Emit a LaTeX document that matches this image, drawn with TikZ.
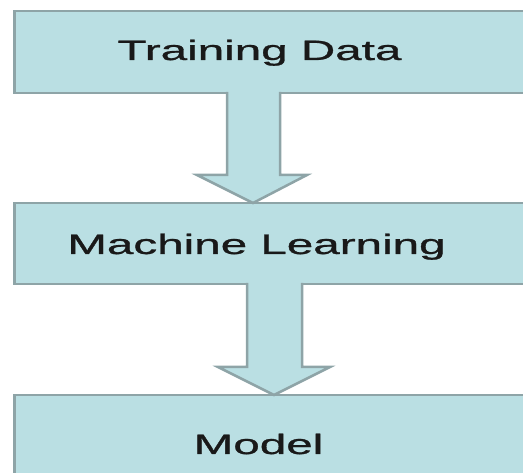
\documentclass[tikz,border=0pt]{standalone}
\usepackage{fontspec}
\setmainfont{Liberation Sans}
\newfontfamily\lblfont[FakeBold=0.8]{Liberation Sans}
\definecolor{boxfill}{HTML}{BADFE3}
\definecolor{boxline}{HTML}{8EA4A7}
\tikzset{
  box/.style={draw=boxline, fill=boxfill, line width=2.5pt, rectangle, inner sep=0pt, anchor=north west},
  lbl/.style={anchor=base, inner sep=0pt, text=black!90, font=\lblfont\fontsize{28}{30}\selectfont},
  arrowfill/.style={fill=boxfill, draw=none},
  arrowline/.style={draw=boxline, line width=2.5pt, line join=miter}
}
\newcommand{\wide}[1]{\scalebox{1.7}[1]{#1}}
\begin{document}
\begin{tikzpicture}[x=1pt, y=-1pt]
\useasboundingbox (0,0) rectangle (523,473);
\clip (0,0) rectangle (523,473);
% boxes
\node[box, minimum width=530pt, minimum height=82pt] (b1) at (13,10) {};
\node[box, minimum width=530pt, minimum height=81pt] (b2) at (13,202) {};
\node[box, minimum width=530pt, minimum height=100pt] (b3) at (13,394) {};
% texts
\node[lbl] (t1) at (259.5,60) {\wide{Training Data}};
\node[lbl] (t2) at (256.5,254) {\wide{Machine Learning}};
\node[lbl] (t3) at (258.5,454) {\wide{Model}};
% arrow 1
\coordinate (a1l) at (227,92);
\coordinate (a1r) at (280,92);
\coordinate (a1tip) at (253,203);
\fill[arrowfill] (a1l) -- (227,175) -- (197,175) -- (a1tip) -- (307,175) -- (280,175) -- (a1r) -- cycle;
\draw[arrowline] (a1l) -- (227,175) -- (197,175) -- (a1tip) -- (307,175) -- (280,175) -- (a1r);
% arrow 2
\coordinate (a2l) at (247,283);
\coordinate (a2r) at (302,283);
\coordinate (a2tip) at (274,395);
\fill[arrowfill] (a2l) -- (247,367) -- (218,367) -- (a2tip) -- (330,367) -- (302,367) -- (a2r) -- cycle;
\draw[arrowline] (a2l) -- (247,367) -- (218,367) -- (a2tip) -- (330,367) -- (302,367) -- (a2r);
\end{tikzpicture}
\end{document}
